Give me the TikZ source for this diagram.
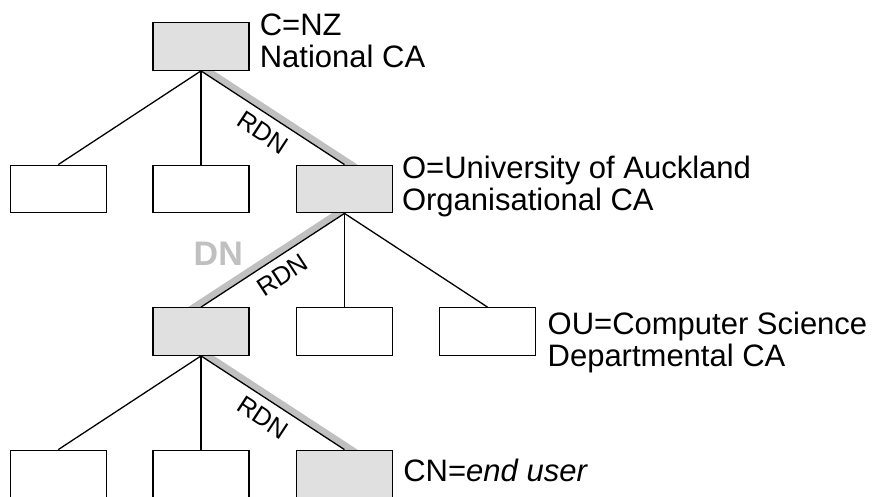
\documentclass[tikz,border=0pt]{standalone}
\usepackage{fontspec}
\setmainfont{Liberation Sans}
\usetikzlibrary{calc,backgrounds}
\definecolor{boxgray}{RGB}{224,224,224}
\definecolor{bandgray}{RGB}{192,192,192}
\begin{document}
\begin{tikzpicture}[x=1pt,y=-1pt,
  box/.style={draw, line width=1.3pt, minimum width=96pt, minimum height=47.5pt, inner sep=0pt, fill=white},
  cabox/.style={box, fill=boxgray},
  link/.style={line width=1.3pt},
  band/.style={line width=7pt, bandgray, shorten <=-6pt, shorten >=-6pt},
  lbl/.style={anchor=base west, align=left, inner sep=0pt, font=\fontsize{31}{32}\selectfont},
  rdn/.style={midway, sloped, below, inner sep=1pt, outer sep=8pt, font=\fontsize{25.5}{28}\selectfont},
]
\clip (0,0) rectangle (877,496);
% boxes
\node[cabox] (t)  at (201,46.5) {};
\node[box]   (a1) at (58.25,189) {};
\node[box]   (a2) at (201,189) {};
\node[cabox] (a3) at (344.5,189) {};
\node[cabox] (b1) at (201,331.5) {};
\node[box]   (b2) at (344.5,331.5) {};
\node[box]   (b3) at (487.5,331.5) {};
\node[box]   (c1) at (58.25,474) {};
\node[box]   (c2) at (201,474) {};
\node[cabox] (c3) at (344.5,474) {};
% highlight band
\begin{scope}[on background layer]
\draw[band] ([xshift=6.5pt]t.south) -- ([xshift=6.5pt]a3.north);
\draw[band] ([xshift=-6.5pt]a3.south) -- ([xshift=-6.5pt]b1.north);
\draw[band] ([xshift=6.5pt]b1.south) -- ([xshift=6.5pt]c3.north);
\end{scope}
% connectors
\draw[link] (t.south) -- (a1.north);
\draw[link] (t.south) -- (a2.north);
\draw[link] (t.south) -- node[rdn]{RDN} (a3.north);
\draw[link] (b1.north) -- node[rdn]{RDN} (a3.south);
\draw[link] (a3.south) -- (b2.north);
\draw[link] (a3.south) -- (b3.north);
\draw[link] (b1.south) -- (c1.north);
\draw[link] (b1.south) -- (c2.north);
\draw[link] (b1.south) -- node[rdn]{RDN} (c3.north);
% labels (anchor is the baseline of the last line)
\node[lbl] (tl) at ($(t.north east)+(10,45.7)$) {C=NZ\\National CA};
\node[lbl] (al) at ($(a3.north east)+(8.7,46.3)$) {O=University of Auckland\\Organisational CA};
\node[lbl] (bl) at ($(b3.north east)+(11.3,59)$) {OU=Computer Science\\Departmental CA};
\node[lbl] (cl) at ($(c3.north east)+(10,31.7)$) {CN=\textit{end user}};
\node[inner sep=0pt, text=bandgray, font=\fontsize{34}{36}\selectfont\bfseries] (dn) at (218.3,253.3) {DN};
\end{tikzpicture}
\end{document}
